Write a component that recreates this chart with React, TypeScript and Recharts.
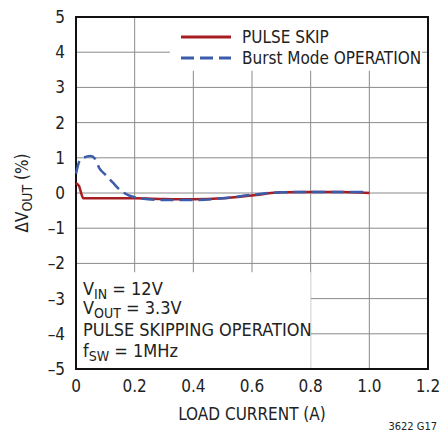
import { LineChart, Line, XAxis, YAxis, CartesianGrid, ReferenceArea } from "recharts"

const FONT = "'Liberation Sans Narrow', 'DejaVu Sans Condensed', 'Arial Narrow', sans-serif"

// load current (A) vs output deviation (%)
const pulseX = [0, 0.01, 0.025, 0.05, 0.1, 0.2, 0.3, 0.4, 0.5, 0.6, 0.7, 0.8, 0.9, 1.0]
const pulseY = [0.28, 0.2, -0.15, -0.15, -0.15, -0.15, -0.17, -0.18, -0.15, -0.07, 0.02, 0.03, 0.03, 0.0]

const burstX = [0, 0.015, 0.05, 0.065, 0.08, 0.1, 0.125, 0.155, 0.2, 0.3, 0.4, 0.5, 0.6, 0.7, 0.8, 0.9, 1.0]
const burstY = [0.55, 0.95, 1.05, 0.97, 0.7, 0.52, 0.3, 0.05, -0.12, -0.2, -0.2, -0.15, -0.05, 0.02, 0.03, 0.03, 0.03]

const xTicks = [0, 0.2, 0.4, 0.6, 0.8, 1.0, 1.2]
const yTicks = [-5, -4, -3, -2, -1, 0, 1, 2, 3, 4, 5]

const RED = "#a61e22"
const BLUE = "#3b5cab"

const pulse = pulseX.map((x, i) => ({ x, y: pulseY[i] }))
const burst = burstX.map((x, i) => ({ x, y: burstY[i] }))

export default function App() {
  const fmtX = (v: number) => (v === 0 ? "0" : v.toFixed(1))
  const fmtY = (v: number) => String(v).replace("-", "\u2013")
  return (
    <div style={{ position: "absolute", left: 0, top: 0, width: 441, height: 432, background: "#fff" }}>
      <LineChart width={441} height={432} margin={{ top: 17, right: 13, left: 16, bottom: 43 }}>
        <CartesianGrid stroke="#8a8a8a" strokeWidth={1} />
        <XAxis
          type="number"
          dataKey="x"
          domain={[0, 1.2]}
          ticks={xTicks}
          tickFormatter={fmtX}
          axisLine={false}
          tickLine={false}
          tickSize={0}
          tickMargin={11}
          tick={{ fill: "#222", fontSize: 17, fontFamily: FONT }}
          height={20}
        />
        <YAxis
          type="number"
          dataKey="y"
          domain={[-5, 5]}
          ticks={yTicks}
          tickFormatter={fmtY}
          axisLine={false}
          tickLine={false}
          tickSize={0}
          tickMargin={11}
          tick={{ fill: "#222", fontSize: 17, fontFamily: FONT }}
          width={60}
        />
        <ReferenceArea x1={0.32} x2={1.18} y1={3.47} y2={5} fill="#fff" fillOpacity={1} stroke="none" />
        <ReferenceArea x1={0} x2={0.8} y1={-5} y2={-2.25} fill="#fff" fillOpacity={1} stroke="none" />
        <Line
          data={pulse}
          dataKey="y"
          type="monotone"
          stroke={RED}
          strokeWidth={2.5}
          dot={false}
          isAnimationActive={false}
        />
        <Line
          data={burst}
          dataKey="y"
          type="monotone"
          stroke={BLUE}
          strokeWidth={2.5}
          strokeDasharray="13 6"
          dot={false}
          isAnimationActive={false}
        />
        <ReferenceArea x1={0} x2={1.2} y1={-5} y2={5} fill="none" stroke="#111" strokeWidth={2} />
      </LineChart>
      <svg
        width={441}
        height={432}
        style={{ position: "absolute", left: 0, top: 0, pointerEvents: "none" }}
        fontFamily={FONT}
        fill="#222"
      >
        <line x1={181} y1={37} x2={231} y2={37} stroke={RED} strokeWidth={3} />
        <line x1={181} y1={58} x2={231} y2={58} stroke={BLUE} strokeWidth={3} strokeDasharray="13 6" />
        <text x={242} y={43} fontSize={17}>PULSE SKIP</text>
        <text x={242} y={64} fontSize={17}>Burst Mode OPERATION</text>
        <text transform="translate(28,193) rotate(-90)" textAnchor="middle" fontSize={17}>
          ΔV<tspan fontSize={14} dy={4}>OUT</tspan>
          <tspan dy={-4}> (%)</tspan>
        </text>
        <text x={252} y={420} textAnchor="middle" fontSize={17}>LOAD CURRENT (A)</text>
        <text x={437} y={430} textAnchor="end" fontSize={11}>3622 G17</text>
        <g fontSize={18}>
          <text x={83} y={295}>
            V<tspan fontSize={14} dy={4}>IN</tspan>
            <tspan dy={-4}> = 12V</tspan>
          </text>
          <text x={83} y={314}>
            V<tspan fontSize={14} dy={4}>OUT</tspan>
            <tspan dy={-4}> = 3.3V</tspan>
          </text>
          <text x={83} y={336}>PULSE SKIPPING OPERATION</text>
          <text x={83} y={357}>
            f<tspan fontSize={14} dy={4}>SW</tspan>
            <tspan dy={-4}> = 1MHz</tspan>
          </text>
        </g>
      </svg>
    </div>
  )
}
